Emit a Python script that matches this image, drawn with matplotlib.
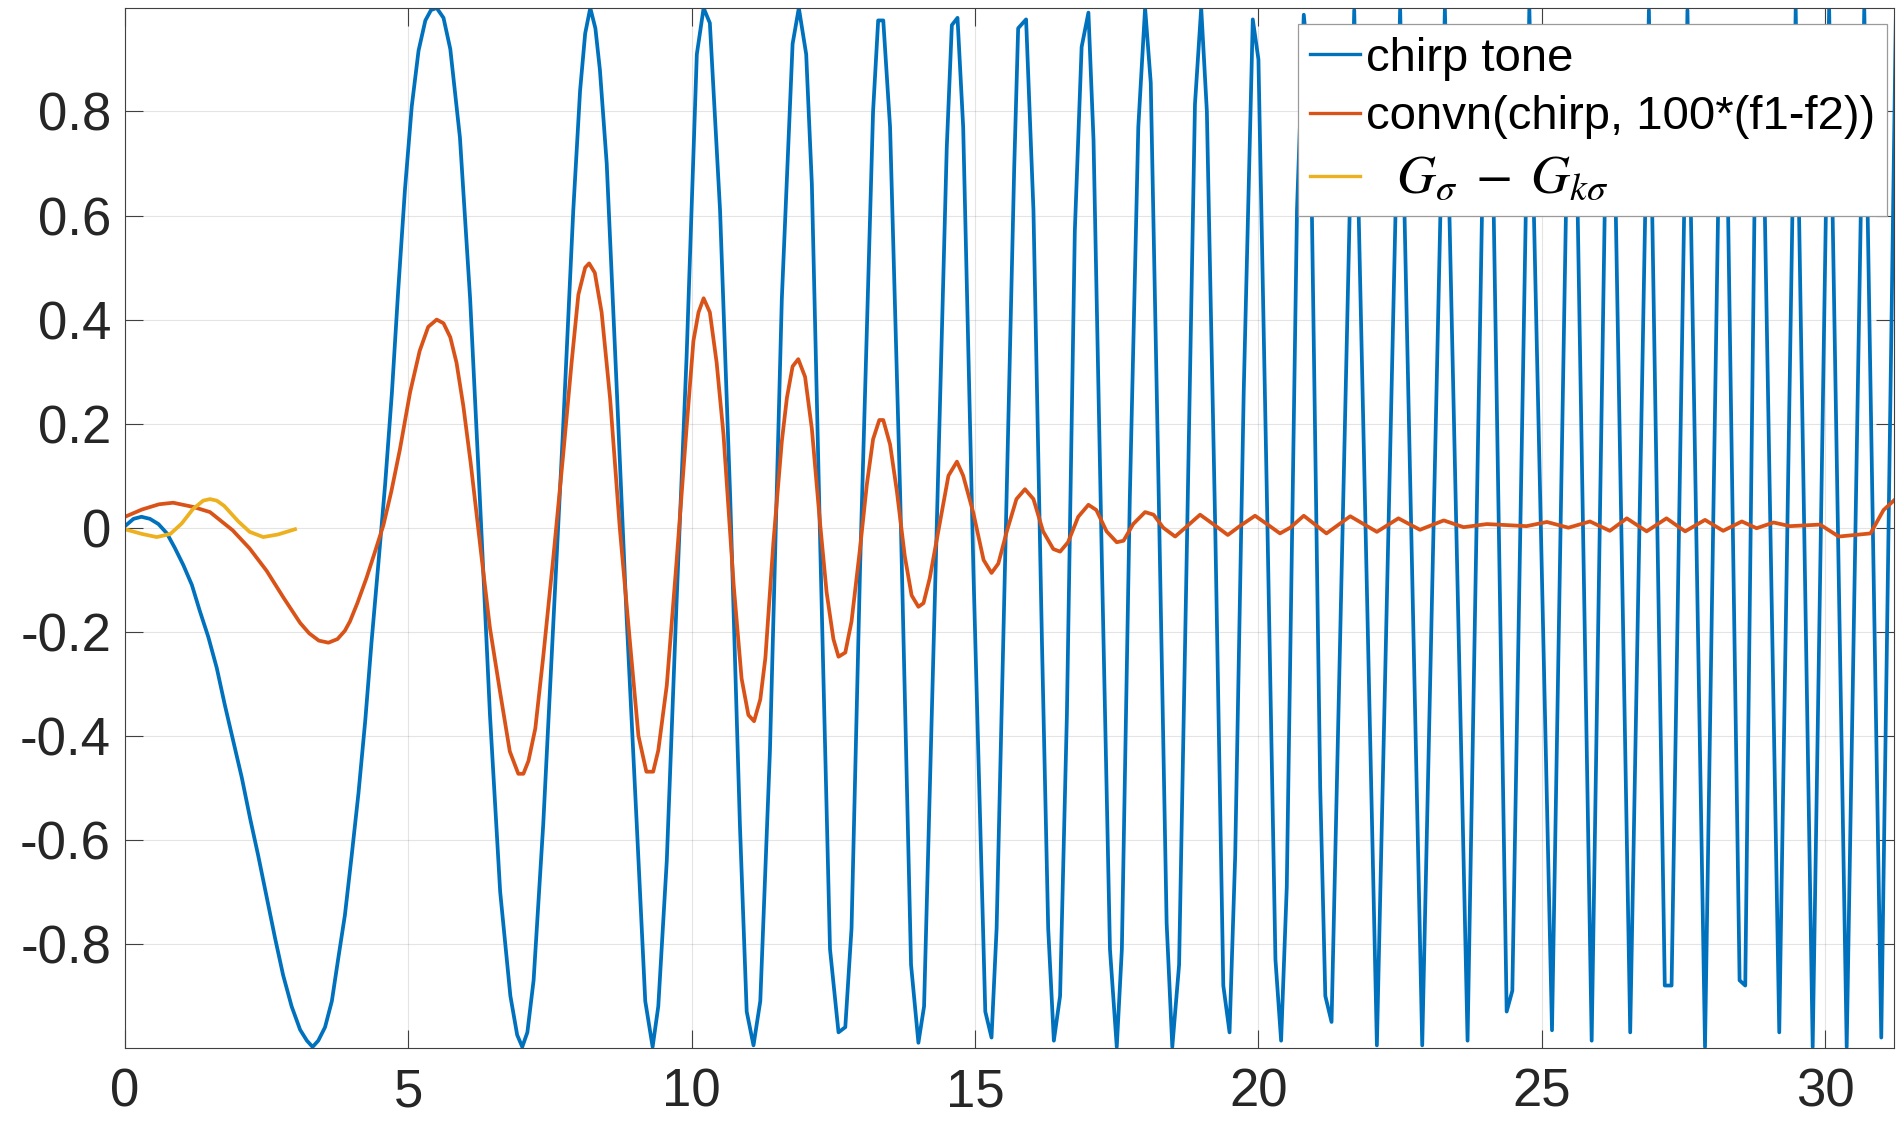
import matplotlib
matplotlib.use("Agg")
import matplotlib.pyplot as plt

plt.rcParams['font.family'] = ['Liberation Sans', 'DejaVu Sans']
plt.rcParams['mathtext.fontset'] = 'stix'

# ---- data ----
chirp_t = [0.00, 0.15, 0.29, 0.44, 0.59, 0.74, 0.88, 1.03, 1.18, 1.32, 1.47, 1.62, 1.76, 1.91, 2.06,
           2.21, 2.35, 2.50, 2.65, 2.79, 2.94, 3.09, 3.21, 3.31, 3.41, 3.53, 3.65, 3.76, 3.88, 4.00,
           4.12, 4.24, 4.35, 4.47, 4.59, 4.71, 4.82, 4.94, 5.06, 5.18, 5.30, 5.40, 5.50, 5.62, 5.74,
           5.91, 6.09, 6.26,
           6.44, 6.62, 6.80, 6.92, 7.01, 7.10, 7.21, 7.38, 7.56, 7.73, 7.91, 8.03, 8.12, 8.21, 8.30,
           8.38, 8.50, 8.68, 8.85, 9.03, 9.18, 9.31, 9.41, 9.56, 9.73, 9.91, 10.09, 10.21, 10.32, 10.50,
           10.68, 10.85, 10.97, 11.09, 11.21, 11.38, 11.59, 11.78, 11.89, 12.02, 12.12, 12.26, 12.44,
           12.59, 12.71, 12.82, 12.97, 13.20, 13.29, 13.38, 13.50, 13.68, 13.87, 14.00, 14.10, 14.27,
           14.50, 14.59, 14.69, 14.79, 14.97, 15.18, 15.29, 15.38, 15.56, 15.69, 15.76, 15.90, 16.03,
           16.18, 16.29, 16.39, 16.50, 16.62, 16.76, 16.88, 17.00, 17.09, 17.24, 17.38, 17.50, 17.59,
           17.73, 17.88, 18.00, 18.10, 18.23, 18.38, 18.48, 18.60, 18.73, 18.88, 18.99, 19.09, 19.24,
           19.38, 19.49, 19.59, 19.74, 19.90, 20.00, 20.15, 20.30, 20.40, 20.50, 20.68, 20.80, 20.91,
           21.09, 21.18, 21.29, 21.69, 22.09, 22.50, 22.89, 23.29, 23.69, 24.00, 24.10, 24.38, 24.48,
           24.78, 25.18, 25.48, 25.58, 25.88, 26.16, 26.25, 26.56, 26.89, 27.17, 27.29, 27.57, 27.88,
           28.16, 28.24, 28.49, 28.59, 28.79, 28.88, 29.19, 29.48, 29.78, 30.07, 30.38, 30.69, 30.99,
           31.25]
chirp_y = [0.003, 0.017, 0.021, 0.017, 0.007, -0.011, -0.039, -0.072, -0.110, -0.160, -0.210, -0.270,
           -0.340, -0.410, -0.480, -0.560, -0.630, -0.710, -0.790, -0.860, -0.920, -0.965, -0.986,
           -0.998, -0.986, -0.960, -0.910, -0.830, -0.745, -0.630, -0.510, -0.370, -0.220, -0.070,
           0.083, 0.260, 0.455, 0.650, 0.810, 0.917, 0.975, 0.995, 0.999, 0.980, 0.920, 0.750, 0.440,
           0.060,
           -0.360, -0.700, -0.900, -0.975, -0.998, -0.970,
           -0.870, -0.570, -0.180, 0.190, 0.610, 0.840, 0.950, 0.999, 0.960, 0.880, 0.700, 0.260,
           -0.170, -0.570, -0.910, -0.998, -0.920, -0.640, -0.150, 0.330, 0.910, 0.999, 0.970, 0.610,
           0.055, -0.570, -0.930, -0.995, -0.910, -0.430, 0.440, 0.930, 0.999, 0.910, 0.660, 0.000,
           -0.810, -0.970, -0.960, -0.770, -0.080, 0.800, 0.975, 0.975, 0.770, 0.055, -0.840, -0.990,
           -0.920, -0.220, 0.730, 0.966, 0.980, 0.770, -0.080, -0.930, -0.980, -0.770, 0.080, 0.690,
           0.960, 0.977, 0.610, -0.220, -0.770, -0.986, -0.900, -0.360, 0.570, 0.924, 0.990, 0.745,
           -0.080, -0.810, -0.998, -0.810, 0.055, 0.770, 0.999, 0.855, 0.124, -0.760, -0.998, -0.840,
           -0.080, 0.814, 0.999, 0.800, -0.014, -0.880, -0.970, -0.630, 0.260, 0.977, 0.900, 0.055,
           -0.830, -0.986, -0.690, 0.610, 0.986, 0.855, -0.500, -0.900, -0.950, 0.995, -0.995, 0.999,
           -0.995, 0.999, -0.986, 0.950, 0.950, -0.930, -0.890, 0.999, -0.966, 0.950, 0.950, -0.986,
           0.950, 0.950, -0.970, 0.995, -0.880, -0.880, 0.995, -0.998, 0.950, 0.950, -0.870, -0.880,
           0.950, 0.950, -0.970, 0.997, -0.998, 0.999, -0.998, 0.999, -0.980, 1.000]

conv_t = [0.00, 0.30, 0.60, 0.85, 1.20, 1.50, 1.90, 2.20, 2.50, 2.80, 3.09, 3.25, 3.42, 3.59, 3.75,
          3.88, 3.97, 4.10, 4.26, 4.40, 4.56, 4.70, 4.85, 5.03, 5.20, 5.35, 5.50, 5.62, 5.74, 5.85, 5.97, 6.10,
          6.29, 6.44, 6.62, 6.79, 6.94, 7.03, 7.12, 7.24, 7.38, 7.56, 7.73, 7.88, 8.00, 8.12, 8.19,
          8.29, 8.41, 8.56, 8.73, 8.91, 9.06, 9.20, 9.32, 9.41, 9.56, 9.73, 9.91, 10.03, 10.12, 10.21,
          10.32, 10.44, 10.56, 10.74, 10.88, 11.00, 11.10, 11.21, 11.30, 11.44, 11.59, 11.68, 11.78,
          11.88, 12.00, 12.12, 12.26, 12.38, 12.50, 12.59, 12.71, 12.82, 12.97, 13.09, 13.20, 13.31,
          13.38, 13.50, 13.62, 13.76, 13.88, 14.00, 14.09, 14.20, 14.35, 14.53, 14.68, 14.79, 14.97,
          15.15, 15.29, 15.41, 15.56, 15.73, 15.88, 16.03, 16.20, 16.38, 16.50, 16.64, 16.82, 17.00,
          17.14, 17.32, 17.50, 17.62, 17.79, 18.00, 18.15, 18.32, 18.53, 18.71, 18.97, 19.20, 19.46,
          19.67, 19.94, 20.15, 20.38, 20.56, 20.80, 21.20, 21.62, 22.09, 22.47, 22.85, 23.27, 23.62,
          24.03, 24.73, 25.09, 25.47, 25.85, 26.20, 26.50, 26.85, 27.20, 27.53, 27.88, 28.20, 28.53,
          28.79, 29.09, 29.38, 29.91, 30.24, 30.80, 31.03, 31.24]
conv_y = [0.021, 0.035, 0.045, 0.048, 0.040, 0.030, -0.005, -0.040, -0.083, -0.135, -0.183, -0.203,
          -0.217, -0.221, -0.214, -0.198, -0.180, -0.145, -0.097, -0.050, 0.005, 0.070, 0.150, 0.260,
          0.340, 0.386,
          0.400, 0.393, 0.366, 0.317, 0.234, 0.124, -0.055, -0.193, -0.317, -0.430, -0.473, -0.473,
          -0.448, -0.386, -0.248, -0.055, 0.138, 0.317, 0.448, 0.500, 0.508, 0.490, 0.414, 0.248,
          0.000, -0.220, -0.400, -0.469, -0.469, -0.428, -0.303, -0.069, 0.193, 0.359, 0.414, 0.441,
          0.414, 0.317, 0.180, -0.110, -0.290, -0.360, -0.372, -0.330, -0.250, -0.030, 0.166, 0.250,
          0.310, 0.324, 0.290, 0.190, 0.014, -0.124, -0.214, -0.248, -0.240, -0.180, -0.040, 0.083,
          0.170, 0.207, 0.207, 0.160, 0.070, -0.055, -0.130, -0.152, -0.145, -0.097, -0.007, 0.100,
          0.127, 0.100, 0.028, -0.062, -0.087, -0.069, -0.007, 0.055, 0.074, 0.055, -0.007, -0.041,
          -0.046, -0.028, 0.021, 0.044, 0.034, -0.007, -0.028, -0.025, 0.007, 0.030, 0.025, 0.000,
          -0.017, 0.000, 0.025, 0.007, -0.014, 0.003, 0.023, 0.007, -0.011, 0.000, 0.023, -0.011,
          0.022, -0.008, 0.018, -0.004, 0.014, 0.001, 0.007, 0.003, 0.011, 0.000, 0.012, -0.006,
          0.018, -0.007, 0.018, -0.007, 0.015, -0.006, 0.012, -0.001, 0.010, 0.003, 0.006, -0.017,
          -0.011, 0.034, 0.055]

dog_t = [0.00, 0.30, 0.56, 0.80, 1.00, 1.20, 1.38, 1.50, 1.62, 1.75, 2.00, 2.20, 2.44, 2.70, 3.00]
dog_y = [-0.003, -0.012, -0.018, -0.012, 0.008, 0.036, 0.052, 0.055, 0.052, 0.042, 0.012, -0.008,
         -0.018, -0.013, -0.003]

labels = ['chirp tone', 'convn(chirp, 100*(f1-f2))', r'  $G_\sigma\;-\;G_{k\sigma}$']
xticks = [0, 5, 10, 15, 20, 25, 30]
yticks = [-0.8, -0.6, -0.4, -0.2, 0, 0.2, 0.4, 0.6, 0.8]
yticklabels = ['-0.8', '-0.6', '-0.4', '-0.2', '0', '0.2', '0.4', '0.6', '0.8']

# ---- figure ----
W, H = 1896, 1124
fig = plt.figure(figsize=(W / 100, H / 100), dpi=100)
ax = fig.add_axes([125 / W, 1 - 1047.7 / H, (1894.3 - 125) / W, (1047.7 - 7.7) / H])

lw = 2.7
ax.plot(chirp_t, chirp_y, color='#0072BD', lw=lw, label=labels[0])
ax.plot(conv_t, conv_y, color='#D95319', lw=lw, label=labels[1])
ax.plot(dog_t, dog_y, color='#EDB120', lw=lw, label=labels[2])

ax.set_xlim(0, 31.22)
ax.set_ylim(-0.9995, 0.9995)
ax.set_xticks(xticks)
ax.set_xticklabels([str(v) for v in xticks])
ax.set_yticks(yticks)
ax.set_yticklabels(yticklabels)

ax.grid(True, color='#262626', alpha=0.12, lw=0.8)
ax.set_axisbelow(True)
ax.tick_params(direction='in', length=13, width=0.8, color='#404040',
               top=True, right=True, labelsize=38, labelcolor='#262626')
ax.tick_params(axis='x', pad=14)
ax.tick_params(axis='y', pad=10)
for s in ax.spines.values():
    s.set_color('#404040')
    s.set_linewidth(0.8)

leg = ax.legend(loc='upper right', bbox_to_anchor=(1887 / W, 1 - 24.3 / H),
                bbox_transform=fig.transFigure, borderaxespad=0,
                fontsize=34, handlelength=1.05, handletextpad=0.12, borderpad=0.26,
                labelspacing=0.31, fancybox=False, framealpha=1, edgecolor='#9a9a9a')
leg.get_frame().set_linewidth(0.9)
leg.get_texts()[2].set_fontsize(39)
for lh in leg.get_lines():
    lh.set_linewidth(2.4)

fig.savefig('out.png', dpi=100)
